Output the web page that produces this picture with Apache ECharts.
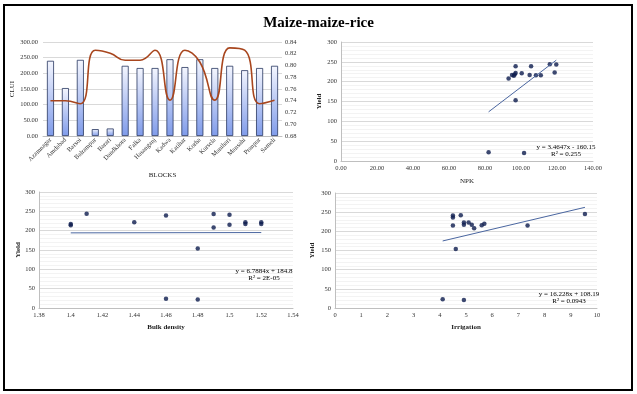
<!DOCTYPE html>
<html><head><meta charset="utf-8">
<script src="https://cdn.jsdelivr.net/npm/echarts@6/dist/echarts.min.js"></script>
<style>html,body{margin:0;padding:0;background:#fff}#c{width:637px;height:394px}</style>
</head><body><div id="c"></div>
<script>
// ---- data ----
const blocks = ['Azamnagar','Amdabad','Barsoi','Balrampur','Barari','Dandkhora','Falka','Hasanganj','Kadwa','Katihar','Korha','Kursela','Manihari','Mansahi','Pranpur','Sameli'];
const clui = [240,153,243,22,24,224,217,217,245,220,245,217,224,210,217,224];
const ratio = [0.740,0.740,0.735,0.826,0.821,0.809,0.809,0.826,0.741,0.826,0.806,0.741,0.830,0.826,0.735,0.741];

const npkPoints = [[82,22],[101.7,20],[97,153],[93.1,208],[95,217],[96,215],[96.5,218],[97,222],[97,239],[100.4,221],[104.8,217],[105.6,239],[108.3,216],[111,216],[116,244],[118.7,223],[119.6,243]];
const npkTrend = [[82,123.9],[119.6,254.2]];
const npkEq = ['y = 3.4647x - 160.15','R² = 0.255'];

const bdPoints = [[1.40,217],[1.40,214],[1.41,244],[1.44,222],[1.46,239],[1.46,24],[1.48,154],[1.48,22],[1.49,243],[1.49,208],[1.50,241],[1.50,215],[1.51,222],[1.51,217],[1.52,222],[1.52,217]];
const bdTrend = [[1.40,194.3],[1.52,195.1]];
const bdEq = ['y = 6.7884x + 184.8','R² = 2E-05'];

const irrPoints = [[4.11,23],[4.5,236],[4.5,241],[4.5,215],[4.61,154],[4.8,242],[4.92,223],[4.92,217],[4.92,21],[5.1,223],[5.22,217],[5.31,208],[5.6,216],[5.7,220],[7.35,215],[9.54,245]];
const irrTrend = [[4.11,174.9],[9.54,262.6]];
const irrEq = ['y = 16.228x + 108.19','R² = 0.0943'];

// ---- style ----
const FF = '"Liberation Serif","Times New Roman",serif';
const tick = {fontFamily: FF, fontSize: 6.5, color: '#333'};
const nameSty = {fontFamily: FF, fontSize: 7, color: '#222'};
const nameBold = {fontFamily: FF, fontSize: 7, color: '#222', fontWeight: 'bold'};
const gridLine = {show: true, lineStyle: {color: '#d9d9d9', width: 1}};
const minorLine = {show: true, lineStyle: {color: '#f3f3f3', width: 1}};
const axLine = {show: true, lineStyle: {color: '#bfbfbf', width: 1}};
const dot = {color: '#0d1b4d'};
const trendSty = {color: '#4a66a0', width: 1};

function scatterY(gi, gap) {
  return {gridIndex: gi, type: 'value', min: 0, max: 300, interval: 50,
    name: 'Yield', nameLocation: 'middle', nameGap: gap, nameTextStyle: nameBold,
    axisLabel: Object.assign({margin: 4}, tick), axisLine: axLine, axisTick: {show: false},
    splitLine: gridLine, minorSplitLine: minorLine, minorTick: {show: false, splitNumber: 5}};
}
function eqText(x, y, t) {
  return {type: 'text', x: x, y: y, z: 200, zlevel: 0,
    style: {text: t, fontFamily: FF, fontSize: 7, fill: '#000', align: 'center', verticalAlign: 'middle'}};
}

const chart = echarts.init(document.getElementById('c'), null, {renderer: 'canvas'});
chart.setOption({
  animation: false,
  backgroundColor: '#fff',
  title: {text: 'Maize-maize-rice', left: 'center', top: 11,
    textStyle: {fontFamily: FF, fontSize: 15, fontWeight: 'bold', color: '#000'}},
  grid: [
    {left: 43, top: 42, width: 239, height: 94},
    {left: 341, top: 42, width: 252, height: 119},
    {left: 39, top: 192, width: 254, height: 116},
    {left: 335, top: 193, width: 262, height: 115}
  ],
  xAxis: [
    {gridIndex: 0, type: 'category', data: blocks, name: 'BLOCKS', nameLocation: 'middle', nameGap: 36,
      nameTextStyle: nameSty, axisLabel: Object.assign({rotate: 45, margin: 3, interval: 0}, tick),
      axisLine: axLine, axisTick: {show: false}},
    {gridIndex: 1, type: 'value', min: 0, max: 140, interval: 20, name: 'NPK', nameLocation: 'middle', nameGap: 17,
      nameTextStyle: nameSty, axisLabel: Object.assign({margin: 4, formatter: v => v.toFixed(2)}, tick),
      axisLine: axLine, axisTick: {show: false}, splitLine: {show: false}},
    {gridIndex: 2, type: 'value', min: 1.38, max: 1.54, interval: 0.02, name: 'Bulk density', nameLocation: 'middle', nameGap: 16,
      nameTextStyle: nameBold, axisLabel: Object.assign({margin: 4, formatter: v => String(parseFloat(v.toFixed(2)))}, tick),
      axisLine: axLine, axisTick: {show: false}, splitLine: {show: false}},
    {gridIndex: 3, type: 'value', min: 0, max: 10, interval: 1, name: 'Irrigation', nameLocation: 'middle', nameGap: 16,
      nameTextStyle: nameBold, axisLabel: Object.assign({margin: 4}, tick),
      axisLine: axLine, axisTick: {show: false}, splitLine: {show: false}}
  ],
  yAxis: [
    {gridIndex: 0, type: 'value', min: 0, max: 300, interval: 50, name: 'CLUI', nameLocation: 'middle', nameGap: 27,
      nameTextStyle: nameSty, axisLabel: Object.assign({margin: 5, formatter: v => v.toFixed(2)}, tick),
      axisLine: {show: false}, axisTick: {show: false}, splitLine: gridLine},
    {gridIndex: 0, type: 'value', position: 'right', min: 0.68, max: 0.84, interval: 0.02,
      axisLabel: Object.assign({margin: 3, formatter: v => v.toFixed(2)}, tick),
      axisLine: {show: false}, axisTick: {show: false}, splitLine: {show: false}},
    scatterY(1, 18),
    scatterY(2, 17),
    scatterY(3, 19)
  ],
  series: [
    {type: 'bar', xAxisIndex: 0, yAxisIndex: 0, data: clui, barWidth: '47%',
      itemStyle: {borderColor: '#27365f', borderWidth: 0.8,
        color: new echarts.graphic.LinearGradient(0, 0, 0, 1, [
          {offset: 0, color: '#f4f6fe'}, {offset: 1, color: '#7f9bea'}])}},
    {type: 'line', xAxisIndex: 0, yAxisIndex: 1, data: ratio, smooth: 0.5, symbol: 'none',
      lineStyle: {color: '#a8461e', width: 1.6}},
    {type: 'line', xAxisIndex: 1, yAxisIndex: 2, data: npkTrend, symbol: 'none', lineStyle: trendSty},
    {type: 'scatter', xAxisIndex: 1, yAxisIndex: 2, data: npkPoints, symbolSize: 4.5, itemStyle: dot},
    {type: 'line', xAxisIndex: 2, yAxisIndex: 3, data: bdTrend, symbol: 'none', lineStyle: trendSty},
    {type: 'scatter', xAxisIndex: 2, yAxisIndex: 3, data: bdPoints, symbolSize: 4.5, itemStyle: dot},
    {type: 'line', xAxisIndex: 3, yAxisIndex: 4, data: irrTrend, symbol: 'none', lineStyle: trendSty},
    {type: 'scatter', xAxisIndex: 3, yAxisIndex: 4, data: irrPoints, symbolSize: 4.5, itemStyle: dot}
  ],
  graphic: [
    {type: 'rect', shape: {x: 4, y: 5, width: 628, height: 385}, style: {fill: 'none', stroke: '#000', lineWidth: 2}, z: 100},
    eqText(566, 147, npkEq[0]), eqText(566, 154.5, npkEq[1]),
    eqText(264, 271, bdEq[0]), eqText(264, 278.5, bdEq[1]),
    eqText(569, 294, irrEq[0]), eqText(569, 301.5, irrEq[1])
  ]
});
</script></body></html>
